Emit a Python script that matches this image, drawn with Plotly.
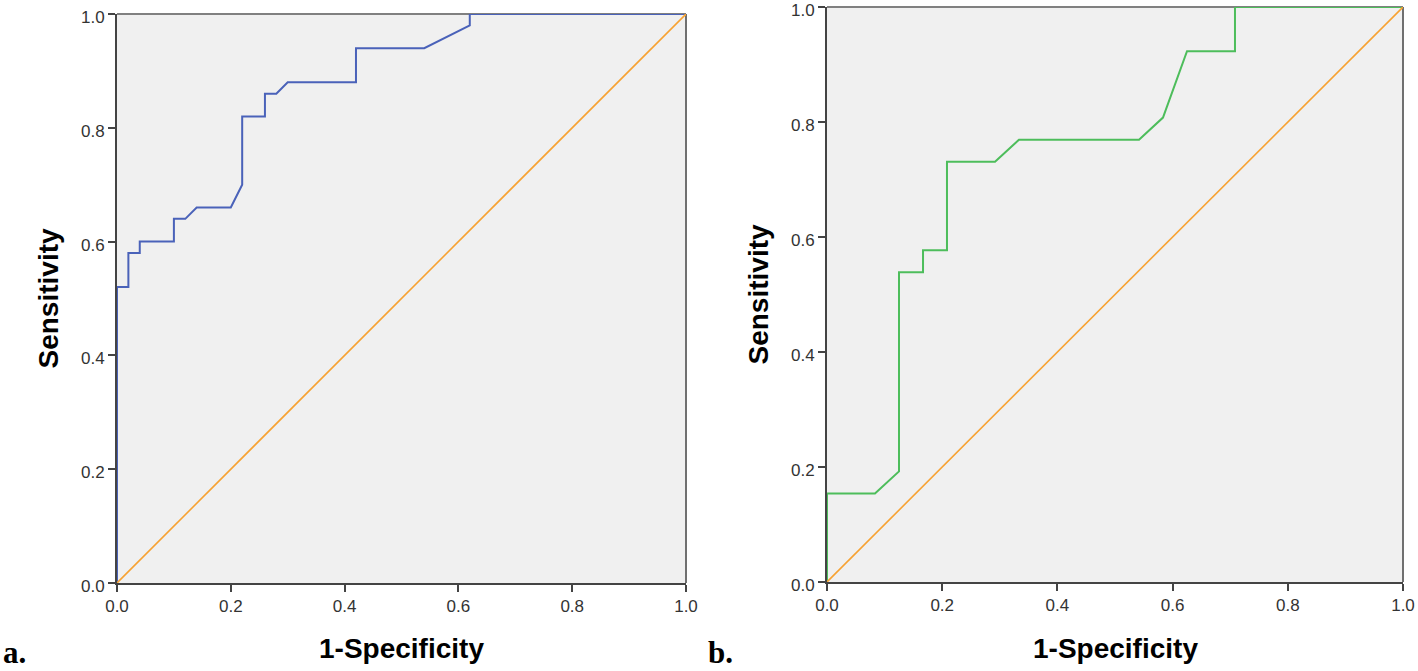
import plotly.graph_objects as go

# ---- data ----
a_fpr = [0.0, 0.0, 0.02, 0.02, 0.04, 0.04, 0.10, 0.10, 0.12, 0.14, 0.20, 0.22, 0.22, 0.26, 0.26, 0.28, 0.30, 0.42, 0.42, 0.54, 0.62, 0.62, 1.0]
a_tpr = [0.0, 0.52, 0.52, 0.58, 0.58, 0.60, 0.60, 0.64, 0.64, 0.66, 0.66, 0.70, 0.82, 0.82, 0.86, 0.86, 0.88, 0.88, 0.94, 0.94, 0.98, 1.0, 1.0]

b_fpr = [0.0, 0.0, 0.0833, 0.125, 0.125, 0.1667, 0.1667, 0.2083, 0.2083, 0.2917, 0.3333, 0.5417, 0.5833, 0.625, 0.7083, 0.7083, 1.0]
b_tpr = [0.0, 0.1538, 0.1538, 0.1923, 0.5385, 0.5385, 0.5769, 0.5769, 0.7308, 0.7308, 0.7692, 0.7692, 0.8077, 0.9231, 0.9231, 1.0, 1.0]

ref_line = [0.0, 1.0]
tick_vals = [0.0, 0.2, 0.4, 0.6, 0.8, 1.0]
tick_text = ["0.0", "0.2", "0.4", "0.6", "0.8", "1.0"]
panel_labels = ["a.", "b."]
x_title = "1-Specificity"
y_title = "Sensitivity"

W, H = 1418, 671
BLUE = "#4A62B9"
GREEN = "#4DBD5B"
ORANGE = "#F7A232"

fig = go.Figure()
fig.add_trace(go.Scatter(x=a_fpr, y=a_tpr, mode="lines", line=dict(color=BLUE, width=2),
                         xaxis="x", yaxis="y", showlegend=False, hoverinfo="skip"))
fig.add_trace(go.Scatter(x=ref_line, y=ref_line, mode="lines", line=dict(color=ORANGE, width=1.6),
                         xaxis="x", yaxis="y", showlegend=False, hoverinfo="skip"))
fig.add_trace(go.Scatter(x=b_fpr, y=b_tpr, mode="lines", line=dict(color=GREEN, width=2),
                         xaxis="x2", yaxis="y2", showlegend=False, hoverinfo="skip"))
fig.add_trace(go.Scatter(x=ref_line, y=ref_line, mode="lines", line=dict(color=ORANGE, width=1.6),
                         xaxis="x2", yaxis="y2", showlegend=False, hoverinfo="skip"))

# pixel boxes: (left, right, top, bottom)
boxes = [(117, 686, 14, 583), (827, 1403, 7, 582)]

tickfont = dict(family="Liberation Sans Narrow, Arial Narrow, Liberation Sans, Arial",
                size=17, color="#333")
axis_common = dict(range=[0, 1], tickvals=tick_vals, ticktext=tick_text, ticks="outside",
                   ticklen=7, tickwidth=2, tickcolor="#444", showline=True, linecolor="#444",
                   linewidth=2, showgrid=False, zeroline=False, tickfont=tickfont, fixedrange=True,
                   automargin=False, ticklabeloverflow="allow")

layout = dict(width=W, height=H, margin=dict(l=0, r=0, t=0, b=0, autoexpand=False),
              paper_bgcolor="white", plot_bgcolor="#F0F0F0", showlegend=False)

shapes = []
annotations = []
for i, (l, r, t, b) in enumerate(boxes):
    sfx = "" if i == 0 else str(i + 1)
    xd = [l / W, r / W]
    yd = [(H - b) / H, (H - t) / H]
    layout["xaxis" + sfx] = dict(domain=xd, anchor="y" + sfx, **axis_common)
    layout["yaxis" + sfx] = dict(domain=yd, anchor="x" + sfx, ticklabelshift=3, **axis_common)
    # top and right frame lines (lighter gray)
    shapes.append(dict(type="line", xref="paper", yref="paper", x0=xd[0], x1=xd[1], y0=yd[1], y1=yd[1],
                       line=dict(color="#808080", width=2), layer="below"))
    shapes.append(dict(type="line", xref="paper", yref="paper", x0=xd[1], x1=xd[1], y0=yd[0], y1=yd[1],
                       line=dict(color="#707070", width=2), layer="below"))
    # axis titles
    annotations.append(dict(text="<b>" + x_title + "</b>", xref="paper", yref="paper",
                            x=(l + r) / 2 / W, y=(H - 648) / H, showarrow=False,
                            font=dict(family="Liberation Sans, Arial", size=28, color="black"),
                            xanchor="center", yanchor="middle"))
    annotations.append(dict(text="<b>" + y_title + "</b>", xref="paper", yref="paper",
                            x=(l - 69) / W, y=(H - (t + b) / 2) / H, showarrow=False, textangle=-90,
                            font=dict(family="Liberation Sans, Arial", size=28, color="black"),
                            xanchor="center", yanchor="middle"))
    annotations.append(dict(text="<b>" + panel_labels[i] + "</b>", xref="paper", yref="paper",
                            x=(1 if i == 0 else 706) / W, y=(H - 652) / H, showarrow=False,
                            font=dict(family="Liberation Serif, Times New Roman, serif", size=31, color="black"),
                            xanchor="left", yanchor="middle"))

layout["shapes"] = shapes
layout["annotations"] = annotations
fig.update_layout(**layout)
fig.write_html("out.html", config={"displayModeBar": False},
               post_script="document.body.style.margin='0';document.body.style.overflow='hidden';")
